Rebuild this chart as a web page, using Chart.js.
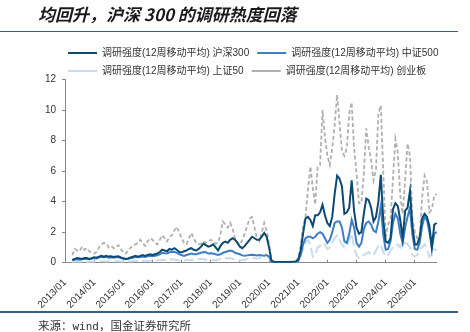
<!DOCTYPE html>
<html><head><meta charset="utf-8">
<script src="https://cdn.jsdelivr.net/npm/chart.js@4"></script>
<style>
html,body{margin:0;padding:0;background:#fff;}
#wrap{position:relative;width:470px;height:332px;overflow:hidden;font-family:"Liberation Sans","Noto Sans CJK SC",sans-serif;}
#title{position:absolute;left:38px;top:2px;font-size:17px;line-height:24px;font-weight:bold;font-style:italic;color:#1a1a1a;white-space:nowrap;font-family:"Noto Sans CJK SC",sans-serif;}
.rule{position:absolute;left:0;width:458px;height:1.5px;background:#365f84;}
#src{position:absolute;left:38px;top:318px;font-size:11.5px;line-height:14px;color:#333;white-space:nowrap;font-family:"Noto Sans CJK SC",sans-serif;}
#src span{font-family:"DejaVu Sans Mono","Liberation Mono",monospace;font-size:11px;}
canvas{position:absolute;left:0;top:0;}
</style></head>
<body><div id="wrap">
<canvas id="c" width="470" height="332" style="width:470px;height:332px"></canvas>
<div id="title">均回升，沪深 300 的调研热度回落</div>
<div class="rule" style="top:30.5px"></div>
<div class="rule" style="top:311px"></div>
<div id="src">来源：<span>wind</span>，国金证券研究所</div>
</div>
<script>
// Month categories 2013/01 .. 2025/10
const firstYear = 2013, lastYear = 2025, lastMonth = 10;
const months = [];
for (let y = firstYear; y <= lastYear; y++) {
  for (let m = 1; m <= 12; m++) {
    if (y === lastYear && m > lastMonth) break;
    months.push(y + '/' + String(m).padStart(2, '0'));
  }
}
const firstDataIndex = 3; // series start 2013/04

const seriesNames = [
  '调研强度(12周移动平均) 沪深300',
  '调研强度(12周移动平均) 中证500',
  '调研强度(12周移动平均) 上证50',
  '调研强度(12周移动平均) 创业板'
];

// 沪深300 (monthly, 2013/04 .. 2025/10)
const hs300 = [
  0.18,0.25,0.3,0.28,0.25,0.3,0.3,0.25,0.3,
  0.35,0.33,0.4,0.45,0.4,0.45,0.4,0.42,0.38,0.4,0.42,0.35,
  0.3,0.25,0.28,0.35,0.4,0.45,0.4,0.45,0.5,0.45,0.5,0.55,
  0.5,0.55,0.6,0.7,0.85,0.8,0.75,0.9,0.85,0.95,0.85,0.7,
  0.68,0.75,0.8,0.9,0.95,0.85,0.8,0.9,1.05,1.25,1.15,1.05,
  1.1,1.2,1.0,0.8,1.1,1.3,1.38,1.3,1.5,1.6,1.5,1.3,
  1.05,0.95,1.1,1.3,1.5,1.7,1.6,1.5,1.5,1.7,1.95,1.7,
  1.0,0.12,0.06,0.05,0.05,0.04,0.04,0.05,0.05,0.05,0.06,0.08,
  0.2,0.8,1.9,2.9,3.0,2.8,2.4,3.1,3.1,3.3,3.8,3.1,
  2.6,2.4,3.0,4.5,5.7,5.5,5.0,3.2,3.3,3.6,5.4,3.4,
  2.3,1.9,2.0,3.2,4.2,4.1,3.6,2.7,3.0,4.0,5.75,2.8,
  1.4,1.3,1.6,3.5,3.9,3.7,2.8,1.6,3.4,3.6,4.7,2.4,
  1.2,1.2,1.7,2.9,3.2,3.0,2.4,1.0,2.5,2.6
];
// 中证500
const zz500 = [
  0.15,0.2,0.22,0.2,0.22,0.25,0.25,0.22,0.25,
  0.3,0.28,0.33,0.38,0.35,0.38,0.33,0.35,0.33,0.35,0.36,0.3,
  0.25,0.22,0.25,0.3,0.33,0.38,0.35,0.38,0.4,0.38,0.42,0.45,
  0.42,0.45,0.48,0.55,0.65,0.62,0.6,0.68,0.7,0.72,0.65,0.55,
  0.5,0.45,0.5,0.55,0.6,0.55,0.55,0.6,0.65,0.7,0.68,0.6,
  0.62,0.6,0.55,0.5,0.55,0.65,0.7,0.75,0.8,0.75,0.65,0.6,
  0.55,0.48,0.45,0.48,0.5,0.52,0.5,0.48,0.5,0.48,0.45,0.5,
  0.4,0.1,0.04,0.03,0.03,0.03,0.03,0.03,0.03,0.04,0.04,0.05,
  0.1,0.5,1.2,1.6,1.7,1.7,1.6,1.7,1.9,2.0,1.9,1.6,
  1.3,1.5,2.0,2.6,2.7,2.7,2.3,1.4,1.3,1.9,2.8,2.3,
  1.3,1.05,1.3,2.2,2.6,2.7,2.5,2.1,2.0,2.7,3.7,1.8,
  0.85,0.9,1.4,2.6,3.2,2.9,1.9,1.3,2.3,3.0,3.6,1.8,
  0.9,0.85,1.3,2.4,3.0,2.8,2.0,0.95,1.9,2.0
];
// 上证50
const sz50 = [
  0.05,0.06,0.07,0.06,0.08,0.07,0.06,0.08,0.07,
  0.08,0.07,0.09,0.1,0.09,0.08,0.1,0.09,0.08,0.1,0.09,0.08,
  0.07,0.06,0.08,0.09,0.1,0.12,0.1,0.11,0.12,0.1,0.12,0.13,
  0.12,0.14,0.15,0.18,0.2,0.18,0.16,0.2,0.22,0.2,0.18,0.15,
  0.14,0.15,0.17,0.2,0.18,0.17,0.2,0.22,0.25,0.22,0.2,0.22,
  0.2,0.18,0.16,0.2,0.25,0.28,0.3,0.28,0.3,0.25,0.2,0.18,
  0.15,0.18,0.2,0.25,0.3,0.35,0.3,0.25,0.3,0.4,0.55,0.5,
  0.3,0.05,0.02,0.02,0.02,0.02,0.02,0.02,0.02,0.02,0.03,0.04,
  0.1,0.4,0.9,1.3,1.5,1.2,0.4,0.5,1.0,1.1,1.3,1.2,
  0.9,1.0,1.3,1.6,1.8,1.5,1.2,1.0,1.1,1.5,1.9,1.0,
  0.5,0.3,0.4,0.5,0.6,0.7,0.5,0.5,0.8,1.1,1.2,0.7,
  0.4,0.5,0.8,1.0,1.1,1.2,1.0,1.4,1.3,1.2,1.0,0.5,
  0.4,0.5,0.9,1.0,1.2,0.9,0.4,0.5,0.9,0.8
];
// 创业板
const cyb = [
  0.5,0.9,0.8,0.75,1.05,0.85,0.95,0.75,0.65,
  0.6,0.7,1.0,1.2,1.3,1.25,1.0,1.1,0.95,1.0,1.15,0.9,
  0.65,0.6,0.8,1.0,1.1,1.2,1.3,1.5,1.3,1.1,1.4,1.6,
  1.5,1.3,1.2,1.5,1.8,1.6,1.4,1.7,1.8,2.1,2.35,2.0,
  1.6,1.3,1.2,1.6,1.95,1.6,1.3,1.2,1.25,1.4,1.3,1.35,
  1.5,1.4,1.25,1.3,1.9,2.7,2.5,2.3,2.6,2.2,1.6,1.3,
  1.2,1.5,1.9,2.4,2.9,3.0,2.3,1.6,1.4,2.0,2.6,2.1,
  1.2,0.15,0.08,0.06,0.05,0.05,0.05,0.06,0.06,0.07,0.08,0.1,
  0.3,1.1,2.4,3.0,4.8,6.3,4.9,3.8,6.3,6.4,10.0,8.2,
  7.0,6.4,7.5,9.0,11.0,9.2,7.3,7.0,7.5,9.8,10.5,7.5,
  5.9,3.9,3.9,5.8,8.8,7.6,6.7,5.4,6.1,9.8,10.3,6.0,
  1.7,2.5,2.8,5.5,8.1,7.2,4.4,3.2,5.4,7.8,7.0,2.9,
  2.0,1.6,1.7,4.3,5.7,5.3,3.3,3.5,4.4,4.5
];

const yTicks = [0, 2, 4, 6, 8, 10, 12];

const pad = arr => Array(firstDataIndex).fill(null).concat(arr);

Chart.defaults.font.family = '"Liberation Sans","Noto Sans CJK SC",sans-serif';
Chart.defaults.color = '#333';

// shift the legend block right so it starts where the reference's does
const legendShift = {
  id: 'legendShift',
  afterLayout(chart) {
    const lg = chart.legend;
    if (lg) { lg.left += 20; lg.right += 20; }
  }
};

new Chart(document.getElementById('c'), {
  type: 'line',
  plugins: [legendShift],
  data: {
    labels: months,
    datasets: [
      {label: seriesNames[0], data: pad(hs300), borderColor: '#0d4a73', borderWidth: 2},
      {label: seriesNames[1], data: pad(zz500), borderColor: '#3d7fc6', borderWidth: 2},
      {label: seriesNames[2], data: pad(sz50), borderColor: '#c7dcf0', borderWidth: 2, borderDash: [10, 4]},
      {label: seriesNames[3], data: pad(cyb), borderColor: '#b0b0b0', borderWidth: 1.8, borderDash: [4, 2.5]}
    ]
  },
  options: {
    responsive: false,
    animation: false,
    events: [],
    elements: {point: {radius: 0}, line: {tension: 0, fill: false}},
    layout: {padding: {left: 40, right: 0, top: 40, bottom: 20}},
    plugins: {
      tooltip: {enabled: false},
      legend: {
        position: 'top',
        align: 'start',
        maxHeight: 39.5,
        labels: {
          usePointStyle: true,
          pointStyle: 'line',
          pointStyleWidth: 29,
          boxHeight: 10,
          padding: 8,
          font: {size: 10},
          color: '#333'
        }
      }
    },
    scales: {
      x: {
        type: 'category',
        grid: {display: true, drawOnChartArea: false, drawTicks: true, tickLength: -3, color: '#888'},
        border: {display: true, color: '#888', width: 1},
        ticks: {autoSkip: false, maxRotation: 45, minRotation: 45, font: {size: 10}, color: '#333', padding: 17},
        afterBuildTicks: s => { s.ticks = s.ticks.filter(t => months[t.value].endsWith('/01')); },
        afterFit: s => { s.height = 49.3; }
      },
      y: {
        min: 0, max: 12,
        afterBuildTicks: s => { s.ticks = yTicks.map(v => ({value: v})); },
        ticks: {font: {size: 10}, color: '#333', padding: 6},
        grid: {display: true, drawOnChartArea: false, drawTicks: true, tickLength: 3, color: '#888'},
        border: {display: true, color: '#888', width: 1},
        afterFit: s => { s.width = 25; }
      },
      y2: {
        position: 'right',
        display: true,
        grid: {display: false},
        border: {display: false},
        ticks: {display: false},
        afterFit: s => { s.width = 33.3; }
      }
    }
  }
});
</script>
</body></html>
